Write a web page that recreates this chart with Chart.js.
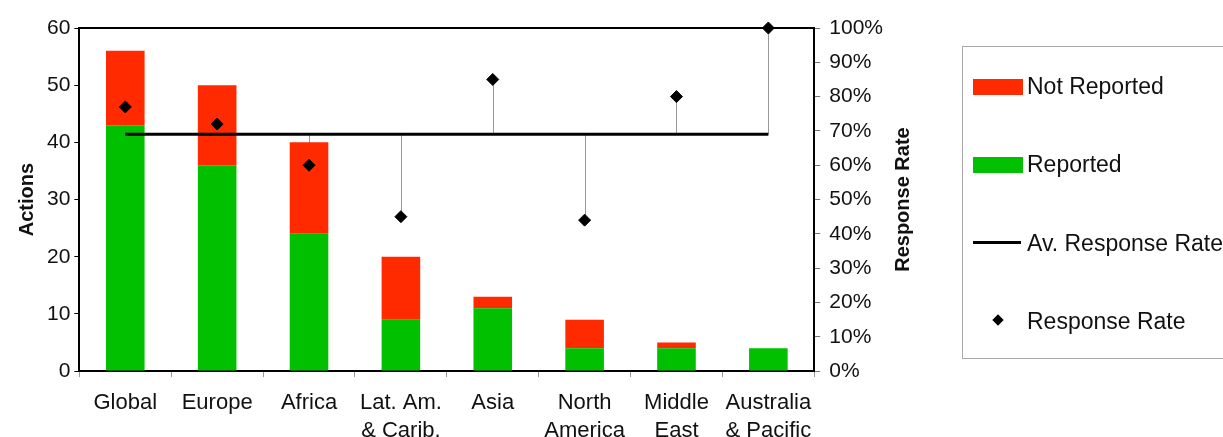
<!DOCTYPE html>
<html>
<head>
<meta charset="utf-8">
<script src="https://cdn.jsdelivr.net/npm/chart.js@4"></script>
<style>
  body { margin: 0; background: #fff; font-family: "Liberation Sans", Arial, sans-serif; }
  #wrap { position: relative; width: 1223px; height: 437px; overflow: hidden; }
  #legend { position: absolute; left: 962px; top: 46px; width: 300px; height: 313px; border: 1px solid #aaa; box-sizing: border-box; }
  .item { position: absolute; left: 10px; font-size: 23px; color: #111; white-space: nowrap; line-height: 26px; }
  .sw { display: inline-block; width: 50px; height: 16px; vertical-align: -1px; margin-right: 4px; }
  .ln { display: inline-block; width: 48px; height: 3px; background: #000; vertical-align: 7px; margin-right: 6px; }
  .dm { display: inline-block; width: 8px; height: 8px; background: #000; transform: rotate(45deg); margin: 0 25px 0 21px; vertical-align: 5px; }
</style>
</head>
<body>
<div id="wrap">
  <canvas id="chart" width="1223" height="459"></canvas>
  <div id="legend">
    <div class="item" style="top:26px"><span class="sw" style="background:#ff2a00"></span>Not Reported</div>
    <div class="item" style="top:104px"><span class="sw" style="background:#00c000"></span>Reported</div>
    <div class="item" style="top:183px"><span class="ln"></span>Av. Response Rate</div>
    <div class="item" style="top:261px"><span class="dm"></span>Response Rate</div>
  </div>
</div>
<script>
const regions = ['Global', 'Europe', 'Africa', ['Lat. Am.', '& Carib.'], 'Asia', ['North', 'America'], ['Middle', 'East'], ['Australia', '& Pacific']];
const reported = [43, 36, 24, 9, 11, 4, 4, 4];
const notReported = [13, 14, 16, 11, 2, 5, 1, 0];
const responseRate = [77, 72, 60, 45, 85, 44, 80, 100];
const avgResponseRate = 69;
const rightTitle = 'Response Rate';

const avgLine = regions.map(() => avgResponseRate);

const font = { family: '"Liberation Sans", Arial, sans-serif', size: 21 };
const titleFont = { family: '"Liberation Sans", Arial, sans-serif', size: 20, weight: 'bold' };

// top frame line, drop lines to the average, right title read bottom-up
const extras = {
    id: 'extras',
    beforeDatasetsDraw(chart) {
        const ctx = chart.ctx;
        const x = chart.scales.x, y1 = chart.scales.y1;
        ctx.save();
        ctx.strokeStyle = '#999';
        ctx.lineWidth = 1;
        responseRate.forEach((v, i) => {
            const px = Math.round(x.getPixelForValue(i)) + 0.5;
            ctx.beginPath();
            ctx.moveTo(px, y1.getPixelForValue(v));
            ctx.lineTo(px, y1.getPixelForValue(avgResponseRate));
            ctx.stroke();
        });
        ctx.restore();
    },
    afterDraw(chart) {
        const a = chart.chartArea, ctx = chart.ctx;
        ctx.save();
        ctx.strokeStyle = '#000';
        ctx.lineWidth = 2;
        ctx.beginPath();
        ctx.moveTo(a.left, a.top);
        ctx.lineTo(a.right, a.top);
        ctx.stroke();
        ctx.translate(a.right + 89, (a.top + a.bottom) / 2);
        ctx.rotate(-Math.PI / 2);
        ctx.font = 'bold 20px "Liberation Sans", Arial, sans-serif';
        ctx.fillStyle = '#111';
        ctx.textAlign = 'center';
        ctx.textBaseline = 'middle';
        ctx.fillText(rightTitle, 0, 0);
        ctx.restore();
    }
};

new Chart(document.getElementById('chart'), {
    data: {
        labels: regions,
        datasets: [
            {
                type: 'line', label: 'Response Rate', data: responseRate, yAxisID: 'y1',
                showLine: false, pointStyle: 'rectRot', pointRadius: 6, pointHoverRadius: 6,
                backgroundColor: '#000', borderColor: '#000', order: 0, clip: false
            },
            {
                type: 'line', label: 'Av. Response Rate', data: avgLine, yAxisID: 'y1',
                borderColor: '#000', borderWidth: 3, pointRadius: 0, order: 1
            },
            {
                type: 'bar', label: 'Reported', data: reported, yAxisID: 'y',
                backgroundColor: '#00c000', stack: 's', order: 2
            },
            {
                type: 'bar', label: 'Not Reported', data: notReported, yAxisID: 'y',
                backgroundColor: '#ff2a00', stack: 's', order: 2
            }
        ]
    },
    options: {
        responsive: false,
        animation: false,
        layout: { padding: { top: 28, right: 331, bottom: 2, left: 11 } },
        datasets: { bar: { categoryPercentage: 1, barPercentage: 0.42 } },
        plugins: { legend: { display: false }, tooltip: { enabled: false } },
        scales: {
            x: {
                stacked: true,
                grid: { drawOnChartArea: false, color: '#999', tickLength: 6 },
                border: { color: '#000', width: 2 },
                ticks: { color: '#111', font: { ...font, size: 22, lineHeight: 1.27 }, padding: 12, maxRotation: 0, autoSkip: false }
            },
            y: {
                stacked: true, min: 0, max: 60,
                grid: { drawOnChartArea: false, color: '#000', tickLength: 5 },
                border: { color: '#000', width: 2 },
                ticks: { stepSize: 10, color: '#111', font: font, padding: 4 },
                title: { display: true, text: 'Actions', color: '#111', font: titleFont, padding: 4 }
            },
            y1: {
                position: 'right', min: 0, max: 100,
                grid: { drawOnChartArea: false, color: '#777', tickLength: 6 },
                border: { color: '#000', width: 2 },
                ticks: { stepSize: 10, color: '#111', font: font, padding: 9, callback: v => v + '%' }
            }
        }
    },
    plugins: [extras]
});
</script>
</body>
</html>
